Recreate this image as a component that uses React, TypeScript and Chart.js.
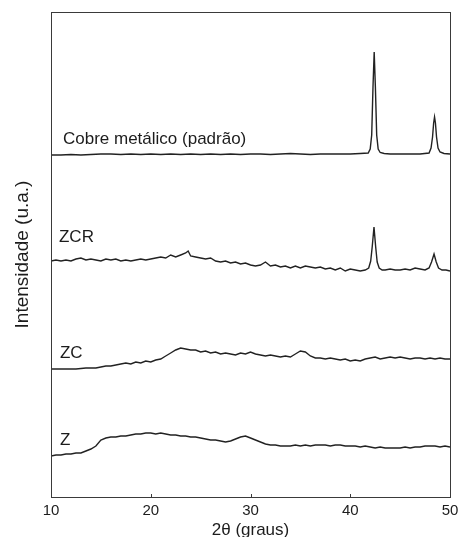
import { useEffect, useRef } from "react";
import { Chart, registerables } from "chart.js";

Chart.register(...registerables);

const FONT = "'Liberation Sans', Arial, Helvetica, sans-serif";
const INK = "#1c1c1c";

// x-axis ticks
const xTicks = [10, 20, 30, 40, 50];

// Cobre metálico (padrão)
const cobreTheta = [
  10, 11, 12, 13, 14, 15, 16, 17, 18, 19, 20, 21, 22, 23, 24, 25, 26, 27, 28, 29, 30,
  31, 32, 33, 34, 35, 36, 37, 38, 39, 40, 41, 41.8, 42.0, 42.15, 42.28, 42.4, 42.52,
  42.65, 42.8, 43.0, 43.4, 44, 45, 46, 47, 47.9, 48.1, 48.25, 48.36, 48.45, 48.54,
  48.65, 48.8, 49.0, 49.4, 50,
];
const cobreIntensity = [
  342, 342, 342.5, 342, 342.5, 343, 343, 342.5, 343, 342.5, 343, 342.5, 343, 342.5, 343,
  342.5, 343, 342.5, 343, 342.5, 343, 343, 342.5, 343, 343.5, 343, 342.5, 343, 343, 343,
  343, 343.5, 344, 348, 362, 410, 445, 410, 362, 348, 344.5, 343.5, 343, 343, 343, 343,
  344, 349, 360, 374, 380, 374, 360, 349, 345, 343.5, 343,
];

// ZCR
const zcrTheta = [
  10, 10.5, 11, 11.5, 12, 12.5, 13, 13.5, 14, 14.5, 15, 15.5, 16, 16.5, 17, 17.5, 18,
  18.5, 19, 19.5, 20, 20.5, 21, 21.5, 22, 22.5, 23, 23.5, 23.75, 24, 24.5, 25, 25.5, 26,
  26.5, 27, 27.5, 28, 28.5, 29, 29.5, 30, 30.5, 31, 31.5, 32, 32.5, 33, 33.5, 34, 34.5,
  35, 35.5, 36, 36.5, 37, 37.5, 38, 38.5, 39, 39.5, 40, 40.5, 41, 41.5, 41.85, 42.05,
  42.2, 42.38, 42.55, 42.7, 42.9, 43.2, 43.5, 44, 44.5, 45, 45.5, 46, 46.5, 47, 47.5,
  47.9, 48.15, 48.4, 48.62, 48.85, 49.2, 49.6, 50,
];
const zcrIntensity = [
  236, 237, 236, 237, 236, 238, 239, 237, 238, 237, 236, 238, 237, 238, 236, 237, 236,
  237, 238, 237, 238, 239, 240, 239, 242, 240, 242, 244, 246, 241, 240, 239, 238, 239,
  236, 235, 236, 234, 235, 233, 234, 232, 231, 232, 235, 231, 232, 230, 231, 229, 231,
  229, 231, 230, 229, 230, 228, 229, 227, 229, 226, 228, 227, 226, 227, 229, 236,
  250, 270, 250, 235, 229, 227, 227, 228, 227, 227, 228, 227, 229, 228, 227,
  229, 235, 243, 235, 229, 227, 227, 226,
];

// common 0.5° grid for ZC and Z
const gridTheta = [
  10, 10.5, 11, 11.5, 12, 12.5, 13, 13.5, 14, 14.5, 15, 15.5, 16, 16.5, 17, 17.5, 18,
  18.5, 19, 19.5, 20, 20.5, 21, 21.5, 22, 22.5, 23, 23.5, 24, 24.5, 25, 25.5, 26, 26.5,
  27, 27.5, 28, 28.5, 29, 29.5, 30, 30.5, 31, 31.5, 32, 32.5, 33, 33.5, 34, 34.5, 35,
  35.5, 36, 36.5, 37, 37.5, 38, 38.5, 39, 39.5, 40, 40.5, 41, 41.5, 42, 42.5, 43, 43.5,
  44, 44.5, 45, 45.5, 46, 46.5, 47, 47.5, 48, 48.5, 49, 49.5, 50,
];

// ZC
const zcIntensity = [
  128, 128, 128, 128, 128, 128, 128.5, 129, 129, 129, 130, 131, 131, 132, 133, 134, 133,
  135, 134, 136, 135, 137, 138, 141, 144, 147, 149, 148, 147, 147, 145, 146, 144, 145,
  143, 144, 143, 142, 144, 143, 145, 143, 142, 141, 142, 141, 140, 141, 140, 143, 146,
  145, 141, 139, 139, 138, 139, 138, 137, 138, 136, 137, 136, 138, 139, 140, 138, 139,
  140, 139, 140, 139, 138, 139, 139, 138, 139, 138, 139, 138, 138,
];

// Z
const zIntensity = [
  41, 42, 42, 43, 43, 44, 44, 46, 48, 51, 57, 59, 60, 60, 61, 61, 62, 63, 63, 64, 64, 63,
  64, 63, 62, 62, 61, 61, 60, 60, 59, 58, 57, 57, 56, 55, 56, 58, 60, 61, 59, 57, 55,
  53, 52, 52, 51, 51, 51, 52, 51, 52, 51, 52, 52, 52, 51, 52, 52, 51, 51, 51, 50, 51,
  50, 49, 50, 49, 49, 49, 49, 50, 49, 50, 50, 51, 51, 51, 50, 51, 50,
];

// trace labels: [text, theta, intensity]
const traceLabels: [string, number, number][] = [
  ["Cobre metálico (padrão)", 11.2, 358],
  ["ZCR", 10.8, 260],
  ["ZC", 10.9, 144],
  ["Z", 10.9, 57],
];

const toPoints = (xs: number[], ys: number[]) => xs.map((x, i) => ({ x, y: ys[i] }));

const framePlugin = {
  id: "frameAndLabels",
  afterDatasetsDraw(chart: any) {
    const { ctx, chartArea } = chart;
    const xs = chart.scales.x;
    const ys = chart.scales.y;
    ctx.save();
    ctx.strokeStyle = "#3a3a3a";
    ctx.lineWidth = 1;
    ctx.strokeRect(
      Math.round(chartArea.left) + 0.5,
      Math.round(chartArea.top) + 0.5,
      Math.round(chartArea.right - chartArea.left),
      Math.round(chartArea.bottom - chartArea.top)
    );
    ctx.beginPath();
    for (const t of xTicks) {
      const px = Math.round(xs.getPixelForValue(t)) + 0.5;
      ctx.moveTo(px, chartArea.bottom);
      ctx.lineTo(px, chartArea.bottom - 3);
    }
    ctx.stroke();
    ctx.fillStyle = INK;
    ctx.font = `17px ${FONT}`;
    ctx.textBaseline = "middle";
    ctx.textAlign = "left";
    for (const [text, t, v] of traceLabels) {
      ctx.fillText(text, xs.getPixelForValue(t), ys.getPixelForValue(v));
    }
    ctx.restore();
  },
};

export default function App() {
  const ref = useRef<HTMLCanvasElement>(null);
  useEffect(() => {
    if (!ref.current) return;
    const line = (data: { x: number; y: number }[]) => ({
      data,
      borderColor: "#222222",
      borderWidth: 1.4,
      pointRadius: 0,
      tension: 0,
      fill: false,
    });
    const chart = new Chart(ref.current, {
      type: "line",
      data: {
        datasets: [
          line(toPoints(cobreTheta, cobreIntensity)),
          line(toPoints(zcrTheta, zcrIntensity)),
          line(toPoints(gridTheta, zcIntensity)),
          line(toPoints(gridTheta, zIntensity)),
        ] as any,
      },
      options: {
        animation: false,
        responsive: false,
        devicePixelRatio: 1,
        layout: { padding: { top: 12, right: 14, left: 0, bottom: 0 } },
        plugins: { legend: { display: false }, tooltip: { enabled: false } },
        scales: {
          x: {
            type: "linear",
            min: 10,
            max: 50,
            afterBuildTicks: (s: any) => {
              s.ticks = xTicks.map((v) => ({ value: v }));
            },
            ticks: { font: { size: 15, family: FONT }, color: INK, padding: 5 },
            grid: { display: false, drawTicks: false },
            border: { display: false },
            title: {
              display: true,
              text: "2θ (graus)",
              color: INK,
              font: { size: 17, family: FONT, lineHeight: 1 },
              padding: { top: 0, bottom: -2 },
            },
            afterFit: (s: any) => {
              s.height = 40;
            },
          },
          y: {
            type: "linear",
            min: 0,
            max: 485,
            ticks: { display: false },
            grid: { display: false },
            border: { display: false },
            title: {
              display: true,
              text: "Intensidade (u.a.)",
              color: INK,
              font: { size: 19, family: FONT, lineHeight: 1 },
              padding: { top: 13, bottom: 0 },
            },
            afterFit: (s: any) => {
              s.width = 51;
            },
          },
        },
      } as any,
      plugins: [framePlugin],
    });
    return () => chart.destroy();
  }, []);
  return (
    <div style={{ position: "fixed", left: 0, top: 0, width: 464, height: 537 }}>
      <canvas ref={ref} width={464} height={537} />
    </div>
  );
}
